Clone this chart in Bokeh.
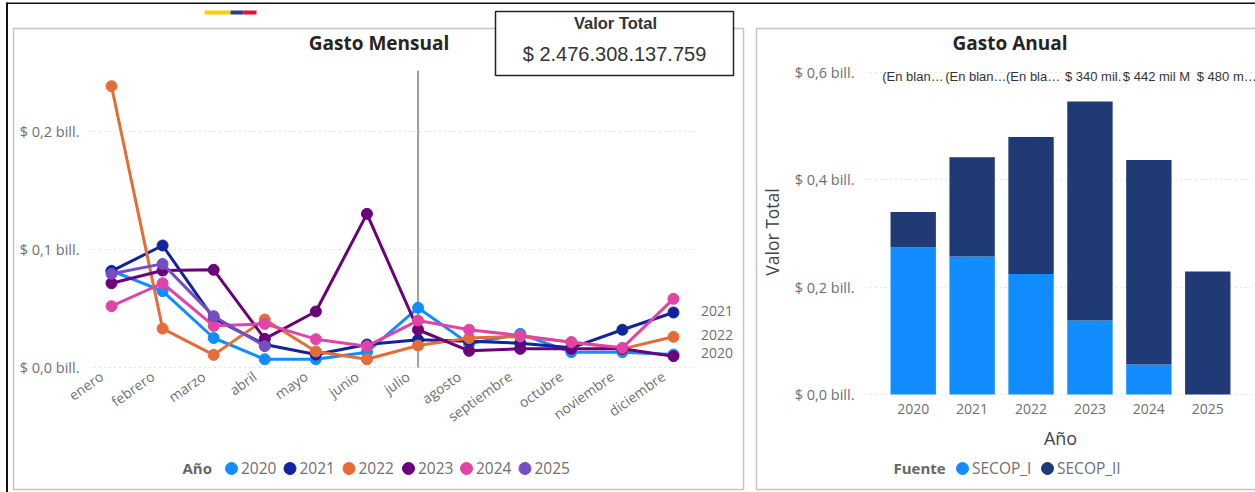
from bokeh.plotting import figure
from bokeh.layouts import row
from bokeh.embed import file_html
from bokeh.resources import INLINE
from bokeh.core.properties import value
from bokeh.models import (ColumnDataSource, FactorRange, Range1d, FixedTicker, Label,
                          BoxAnnotation, LinearAxis)

meses = ["enero", "febrero", "marzo", "abril", "mayo", "junio", "julio", "agosto",
         "septiembre", "octubre", "noviembre", "diciembre"]
y2020 = [.082, .0647, .025, .007, .007, .013, .0506, .020, .0285, .013, .013, .011]
y2021 = [.0816, .1034, .0415, .0195, .011, .0195, .0235, .0223, .0206, .0167, .032, .0466]
y2022 = [.2384, .033, .0107, .0407, .0136, .007, .0186, .0249, .0263, .0215, .0158, .026]
y2023 = [.0714, .0822, .0828, .0243, .0475, .1302, .032, .0141, .0158, .0158, .0158, .0096]
y2024 = [.052, .0714, .0353, .037, .024, .0181, .0398, .032, .0271, .0215, .0167, .0582]
y2025 = [.0794, .0878, .0435, .0181]
anios_linea = ["2020", "2021", "2022", "2023", "2024", "2025"]
colores_linea = ["#118DFF", "#12239E", "#E66C37", "#6B007B", "#E044A7", "#744EC2"]
ticks_mensual = {0: "$ 0,0 bill.", 0.1: "$ 0,1 bill.", 0.2: "$ 0,2 bill."}

anios = ["2020", "2021", "2022", "2023", "2024", "2025"]
fuentes = ["SECOP_I", "SECOP_II"]
colores_fuente = ["#118DFF", "#203A75"]
secop_i = [.274, .257, .2245, .138, .056, 0]
secop_ii = [.066, .185, .2555, .408, .381, .229]
etiquetas = ["(En blan…", "(En blan…", "(En bla…", "$ 340 mil.", "$ 442 mil M", "$ 480 m…"]
ticks_anual = {0: "$ 0,0 bill.", 0.2: "$ 0,2 bill.", 0.4: "$ 0,4 bill.", 0.6: "$ 0,6 bill."}

FONT = "Open Sans"
GRAY = "#6f6f6f"
PANEL = "#c4c4c4"
H = 492


def at(left, top=0):
    return {"position": "absolute", "left": f"{left}px", "top": f"{top}px"}


def style_axis(ax):
    ax.axis_line_color = None
    ax.major_tick_line_color = None
    ax.minor_tick_line_color = None
    ax.major_tick_out = 0
    ax.major_label_text_font = FONT
    ax.major_label_text_color = GRAY


def style_grid(p):
    p.xgrid.visible = False
    p.ygrid.grid_line_color = "#c8c8c8"
    p.ygrid.grid_line_dash = "1 4"
    p.ygrid.grid_line_width = 1


# ---------- left chart ----------
p1 = figure(width=750, height=H, output_backend="svg", toolbar_location=None,
            x_range=Range1d(-0.4306, 11.431),
            y_range=Range1d(-3 / 1180, 297 / 1180), frame_align=False,
            x_axis_location=None,
            min_border_left=89, min_border_right=55, min_border_top=70, min_border_bottom=122,
            outline_line_color=None, styles=at(0))
style_grid(p1)
style_axis(p1.yaxis[0])
p1.yaxis[0].ticker = FixedTicker(ticks=list(ticks_mensual))
p1.yaxis[0].major_label_overrides = ticks_mensual
p1.yaxis[0].major_label_text_font_size = "14.5px"
p1.yaxis[0].major_label_standoff = 10

# The month labels sit slightly left of their points, so their axis has its own range.
p1.extra_x_ranges = {"etiquetas": Range1d(-0.2349, 11.627)}
eje_meses = LinearAxis(x_range_name="etiquetas", ticker=FixedTicker(ticks=list(range(len(meses)))),
                       major_label_overrides=dict(enumerate(meses)))
style_axis(eje_meses)
eje_meses.major_label_text_font_size = "14px"
eje_meses.major_label_orientation = 0.62
eje_meses.major_label_standoff = 4
p1.add_layout(eje_meses, "below")

julio = meses.index("julio")
p1.segment(x0=[julio], x1=[julio], y0=[0], y1=[297 / 1180], line_color="#a0a0a0", line_width=2)

for name, col, vals in zip(anios_linea, colores_linea, [y2020, y2021, y2022, y2023, y2024, y2025]):
    src = ColumnDataSource(dict(x=list(range(len(vals))), y=vals))
    p1.line("x", "y", source=src, line_color=col, line_width=3)
    p1.scatter("x", "y", source=src, size=11, fill_color=col, line_color=col)

# ---------- right chart ----------
p2 = figure(width=505, height=H, output_backend="svg", toolbar_location=None,
            x_range=FactorRange(factors=anios, range_padding=0.31, range_padding_units="absolute"),
            y_range=Range1d(-1 / 536.7, 326 / 536.7), frame_align=False,
            min_border_left=115, min_border_right=0, min_border_top=68, min_border_bottom=97,
            outline_line_color=None, styles=at(750))
style_grid(p2)
style_axis(p2.xaxis[0])
style_axis(p2.yaxis[0])
p2.yaxis[0].ticker = FixedTicker(ticks=list(ticks_anual))
p2.yaxis[0].major_label_overrides = ticks_anual
p2.yaxis[0].major_label_text_font_size = "14.5px"
p2.yaxis[0].major_label_standoff = 11
p2.yaxis[0].axis_label = "Valor Total"
p2.yaxis[0].axis_label_text_font = FONT
p2.yaxis[0].axis_label_text_font_size = "17.5px"
p2.yaxis[0].axis_label_text_font_style = "normal"
p2.yaxis[0].axis_label_text_color = "#444444"
p2.yaxis[0].axis_label_standoff = 8
p2.xaxis[0].major_label_text_font_size = "14px"
p2.xaxis[0].major_label_standoff = 8
p2.xaxis[0].axis_label = "Año"
p2.xaxis[0].axis_label_text_font = FONT
p2.xaxis[0].axis_label_text_font_size = "18px"
p2.xaxis[0].axis_label_text_font_style = "normal"
p2.xaxis[0].axis_label_text_color = "#444444"
p2.xaxis[0].axis_label_standoff = 9

src2 = ColumnDataSource(dict(anio=anios, SECOP_I=secop_i, SECOP_II=secop_ii))
p2.vbar_stack(fuentes, x="anio", width=0.77, source=src2, color=colores_fuente, line_color=None)

lab_src = ColumnDataSource(dict(x=anios, y=[0.5925] * 6, t=etiquetas,
                                dx=[-31, -27, -25, -25, -26, -11]))
p2.text("x", "y", "t", source=lab_src, x_offset="dx", text_font=value("Liberation Sans"),
        text_font_size="13px", text_color="#333333", text_baseline="middle", text_align="left")

# ---------- page furniture: panels, titles, KPI card, legends ----------
p0 = figure(width=1255, height=H, output_backend="svg", toolbar_location=None,
            x_range=Range1d(0, 1255), y_range=Range1d(0, H), frame_align=False,
            x_axis_location=None, y_axis_location=None,
            min_border=0, outline_line_color=None,
            background_fill_color=None, border_fill_color=None, styles=at(0))
p0.grid.visible = False


def box(l, r, t, b, fill=None, line=None, lw=0):
    p0.add_layout(BoxAnnotation(left=l, right=r, top=H - t, bottom=H - b,
                                left_units="screen", right_units="screen",
                                top_units="screen", bottom_units="screen",
                                fill_color=fill, fill_alpha=1 if fill else 0,
                                line_color=line, line_alpha=1 if line else 0, line_width=lw))


def label(x, y, text, size, color="#444444", bold=False, align="left", font=FONT):
    p0.add_layout(Label(x=x, y=H - y, x_units="screen", y_units="screen", text=text,
                        text_font=font, text_font_size=f"{size}px", text_color=color,
                        text_font_style="bold" if bold else "normal",
                        text_align=align, text_baseline="middle"))


def legend(names, colors, title, title_x, dots_x, size):
    label(title_x, 467.5, title, 15, "#666666", bold=True)
    for n, c, x in zip(names, colors, dots_x):
        p0.scatter(x=[x], y=[H - 468], size=12, fill_color=c, line_color=c)
        label(x + 9.5, 467.5, n, size, GRAY)


box(13, 743, 28, 489, line=PANEL, lw=1.5)
box(756, 1256, 28, 489, line=PANEL, lw=1.5)
box(204, 230, 10, 14, fill="#FFCD00")
box(230, 243, 10, 14, fill="#2A3E80")
box(243, 256, 10, 14, fill="#E8112D")
box(495, 733, 11, 75, fill="white", line="#222222", lw=1.5)
label(615, 22, "Valor Total", 16.5, "#333333", bold=True, align="center", font="Liberation Sans")
label(614, 53, "$ 2.476.308.137.759", 20, "#333333", align="center", font="Liberation Sans")
box(6, 1255, 2, 3.5, fill="#111111")
box(5.5, 7.5, 2, 492, fill="#111111")

label(700.5, 310.5, "2021", 14, GRAY)
label(700.5, 334, "2022", 14, GRAY)
label(700.5, 352.5, "2020", 14, GRAY)
label(378.5, 42, "Gasto Mensual", 19, "#252423", bold=True, align="center")
label(1009.5, 42, "Gasto Anual", 19, "#252423", bold=True, align="center")

legend(anios_linea, colores_linea, "Año", 182, [231, 289.5, 348.5, 408, 466, 524.5], 15.5)
legend(fuentes, colores_fuente, "Fuente", 893, [962, 1047], 15.5)

layout = row(p1, p2, p0, width=1255, height=H, sizing_mode="fixed")
open("out.html", "w").write(file_html(layout, INLINE))
